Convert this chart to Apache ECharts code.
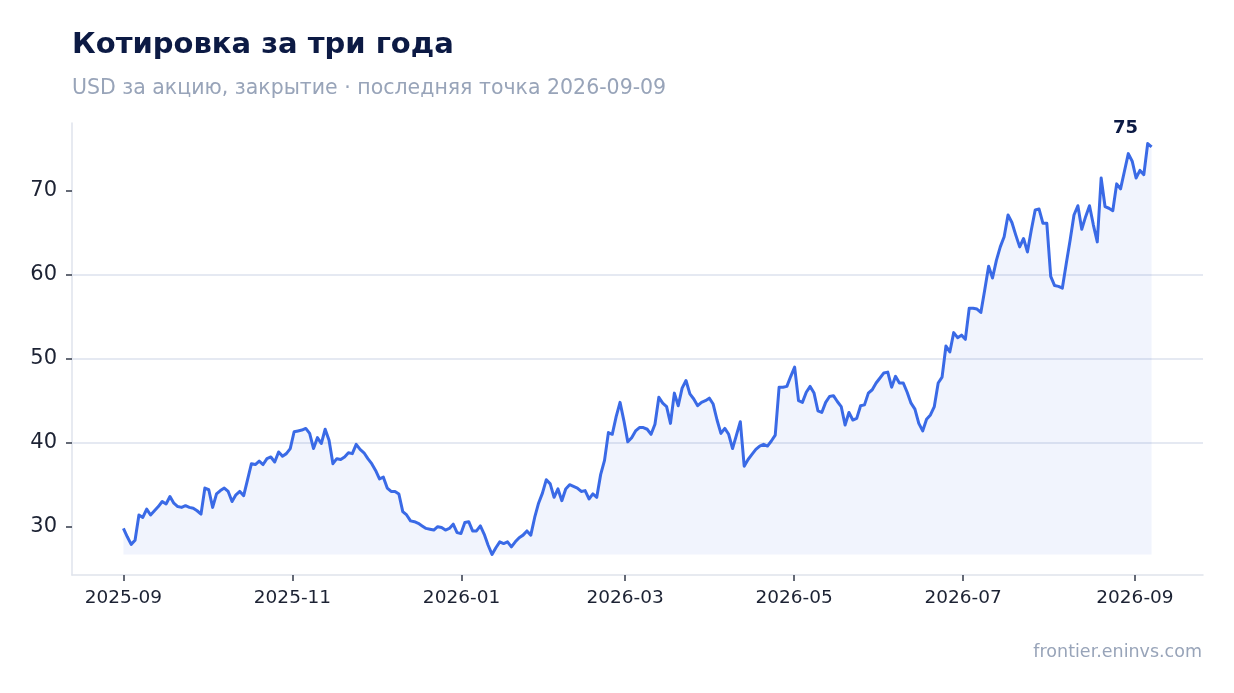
<!DOCTYPE html>
<html lang="ru">
<head>
<meta charset="utf-8">
<title>Котировка за три года</title>
<script src="https://cdn.jsdelivr.net/npm/echarts@6/dist/echarts.min.js"></script>
<style>
  html, body { margin: 0; padding: 0; background: #ffffff; }
  #chart { width: 1234px; height: 693px; }
</style>
</head>
<body>
<div id="chart"></div>
<script>
// цены закрытия, равномерный шаг от 2025-09-01 до последней точки
const prices = [
  29.8, 28.8, 27.9, 28.4, 31.4, 31.1, 32.1, 31.4, 31.9, 32.4,
  33.0, 32.7, 33.6, 32.8, 32.4, 32.3, 32.5, 32.3, 32.2, 31.9,
  31.5, 34.6, 34.4, 32.3, 33.9, 34.3, 34.6, 34.2, 33.0, 33.8,
  34.2, 33.7, 35.6, 37.5, 37.4, 37.8, 37.4, 38.1, 38.3, 37.7,
  38.9, 38.4, 38.7, 39.3, 41.3, 41.4, 41.5, 41.7, 41.1, 39.3,
  40.6, 39.9, 41.6, 40.3, 37.5, 38.1, 38.0, 38.3, 38.8, 38.7,
  39.8, 39.2, 38.8, 38.1, 37.5, 36.7, 35.7, 35.9, 34.6, 34.2,
  34.2, 33.9, 31.8, 31.4, 30.7, 30.6, 30.4, 30.1, 29.8, 29.7,
  29.6, 30.0, 29.9, 29.6, 29.8, 30.3, 29.3, 29.2, 30.5, 30.6,
  29.5, 29.5, 30.1, 29.1, 27.8, 26.7, 27.5, 28.2, 28.0, 28.2,
  27.6, 28.2, 28.7, 29.0, 29.5, 29.0, 31.1, 32.8, 34.0, 35.6,
  35.1, 33.5, 34.5, 33.1, 34.5, 35.0, 34.8, 34.6, 34.2, 34.3,
  33.3, 33.9, 33.5, 36.2, 37.9, 41.2, 41.0, 43.1, 44.8, 42.6,
  40.1, 40.6, 41.4, 41.8, 41.8, 41.6, 41.0, 42.2, 45.4, 44.7,
  44.3, 42.3, 45.9, 44.4, 46.5, 47.4, 45.8, 45.2, 44.4, 44.8,
  45.0, 45.3, 44.6, 42.7, 41.1, 41.7, 41.0, 39.3, 40.9, 42.5,
  37.2, 38.0, 38.6, 39.2, 39.6, 39.8, 39.6, 40.2, 40.9, 46.6,
  46.6, 46.7, 47.9, 49.0, 45.0, 44.8, 46.0, 46.7, 45.9, 43.8,
  43.6, 44.8, 45.5, 45.6, 44.9, 44.3, 42.1, 43.6, 42.7, 42.9,
  44.4, 44.5, 45.9, 46.3, 47.1, 47.7, 48.3, 48.4, 46.6, 47.9,
  47.1, 47.1, 46.0, 44.7, 44.0, 42.3, 41.4, 42.8, 43.3, 44.3,
  47.1, 47.8, 51.5, 50.8, 53.1, 52.5, 52.8, 52.3, 56.0, 56.0,
  55.9, 55.5, 58.2, 61.0, 59.6, 61.7, 63.3, 64.5, 67.1, 66.2,
  64.7, 63.3, 64.3, 62.7, 65.3, 67.7, 67.8, 66.1, 66.1, 59.8,
  58.7, 58.6, 58.4, 61.3, 64.1, 67.1, 68.2, 65.4, 66.9, 68.2,
  65.9, 63.9, 71.5, 68.1, 67.9, 67.6, 70.8, 70.2, 72.3, 74.4,
  73.5, 71.5, 72.4, 71.9, 75.6, 75.2
];
const startDate = '2025-09-01';
const endDate = '2026-09-07';
const xTickLabels = ['2025-09', '2025-11', '2026-01', '2026-03', '2026-05', '2026-07', '2026-09'];
const yTicks = [30, 40, 50, 60, 70];

function parseDay(s) {
  const p = s.split('-');
  return new Date(+p[0], +p[1] - 1, p[2] ? +p[2] : 1).getTime();
}

const t0 = parseDay(startDate);
const t1 = parseDay(endDate);
const step = (t1 - t0) / (prices.length - 1);
const points = prices.map((v, i) => [t0 + i * step, v]);

const xPad = (t1 - t0) * 0.05;
const yMinData = Math.min(...prices);
const yMaxData = Math.max(...prices);
const yPad = (yMaxData - yMinData) * 0.05;
const xTicks = xTickLabels.map(parseDay);
const last = points[points.length - 1];

function monthLabel(v) {
  const t = new Date(v);
  const m = t.getMonth() + 1;
  return t.getFullYear() + '-' + (m < 10 ? '0' + m : m);
}

const font = '"DejaVu Sans", sans-serif';
const chart = echarts.init(document.getElementById('chart'));
chart.setOption({
  animation: false,
  backgroundColor: '#ffffff',
  textStyle: { fontFamily: font },
  title: [
    {
      text: 'Котировка за три года',
      left: 72, top: 31, padding: 0,
      textStyle: { fontFamily: font, fontSize: 29, fontWeight: 'bold', color: '#0c1a44' }
    },
    {
      text: 'USD за акцию, закрытие · последняя точка 2026-09-09',
      left: 72, top: 78, padding: 0,
      textStyle: { fontFamily: font, fontSize: 20.5, fontWeight: 'normal', color: '#98a4b9' }
    },
    {
      text: 'frontier.eninvs.com',
      right: 32, top: 643, padding: 0,
      textStyle: { fontFamily: font, fontSize: 17.5, fontWeight: 'normal', color: '#98a4b9' }
    }
  ],
  grid: { left: 72, right: 31, top: 123, bottom: 118, containLabel: false, outerBoundsMode: 'none' },
  xAxis: {
    type: 'value',
    min: t0 - xPad,
    max: t1 + xPad,
    axisLine: { show: true, lineStyle: { color: '#dfe3ec', width: 1.5 } },
    axisTick: { show: true, customValues: xTicks, length: 6, lineStyle: { color: '#333a4a', width: 1.5 } },
    axisLabel: {
      customValues: xTicks,
      margin: 14,
      fontSize: 18.5,
      color: '#1c2233',
      fontFamily: font,
      formatter: monthLabel
    },
    splitLine: { show: false }
  },
  yAxis: {
    type: 'value',
    min: yMinData - yPad,
    max: yMaxData + yPad,
    axisLine: { show: true, lineStyle: { color: '#dfe3ec', width: 1.5 } },
    axisTick: { show: true, customValues: yTicks, length: 6, lineStyle: { color: '#333a4a', width: 1.5 } },
    axisLabel: { customValues: yTicks, margin: 15, fontSize: 21, color: '#1c2233', fontFamily: font },
    splitLine: { show: true, showMinLine: false, showMaxLine: false, lineStyle: { color: '#dde2ee', width: 1.5 } }
  },
  series: [
    {
      type: 'line',
      data: points,
      showSymbol: false,
      symbol: 'none',
      lineStyle: { color: '#3a6ae6', width: 3, join: 'round' },
      areaStyle: { color: 'rgba(58,106,230,0.1)', origin: yMinData },
      markPoint: {
        symbol: 'circle',
        symbolSize: 1,
        itemStyle: { color: 'rgba(0,0,0,0)' },
        data: [{ coord: last, value: Math.round(last[1]) }],
        label: {
          show: true,
          position: 'inside',
          offset: [-26, -19],
          formatter: '{c}',
          fontFamily: font,
          fontSize: 18,
          fontWeight: 'bold',
          color: '#0c1a44'
        }
      }
    }
  ]
});
</script>
</body>
</html>
